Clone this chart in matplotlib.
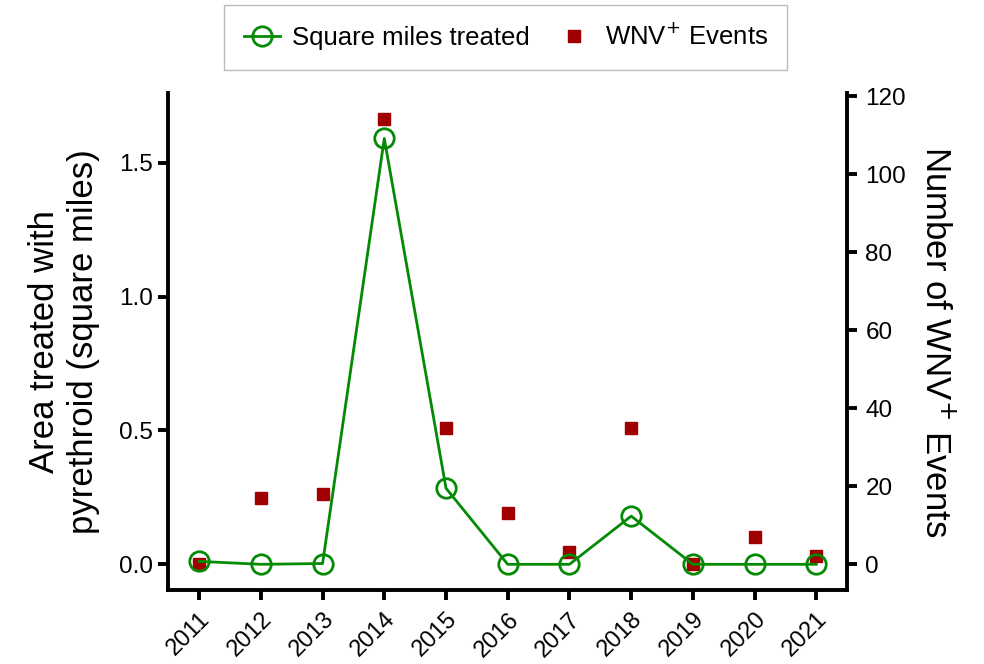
import numpy as np
import matplotlib.pyplot as plt

years = [2011, 2012, 2013, 2014, 2015, 2016, 2017, 2018, 2019, 2020, 2021]
sq_miles = [0.011, 0.0, 0.003, 1.59, 0.284, 0.0, 0.0, 0.18, 0.0, 0.0, 0.0]
wnv_events = [0, 17, 18, 114, 35, 13, 3, 35, 0, 7, 2]

plt.rcParams['font.family'] = ['Liberation Sans', 'DejaVu Sans']

green = '#058a05'
red = '#a00000'

fig = plt.figure(figsize=(9.84, 6.64), dpi=100)
ax = fig.add_axes([0.171, 0.111, 0.69, 0.749])
ax2 = ax.twinx()

l1, = ax.plot(years, sq_miles, color=green, lw=2, marker='o', ms=14,
              mfc='none', mec=green, mew=2, label='Square miles treated', zorder=3)
l2, = ax2.plot(years, wnv_events, ls='none', marker='s', ms=8.5, color=red,
               label='WNV$^{+}$ Events', zorder=2)

ax.set_xlim(2010.5, 2021.5)
ax.set_ylim(-0.097, 1.76)
ax2.set_ylim(-6.7, 120.8)
ax.set_yticks([0.0, 0.5, 1.0, 1.5])
ax.set_yticklabels(['0.0', '0.5', '1.0', '1.5'])
ax2.set_yticks(np.arange(0, 121, 20))
ax.set_xticks(years)
ax.set_xticklabels([str(y) for y in years], rotation=45, ha='right',
                   rotation_mode='anchor', fontsize=17)

ax.spines['top'].set_visible(False)
ax.spines['right'].set_visible(False)
for s in ('top', 'left', 'bottom'):
    ax2.spines[s].set_visible(False)
ax.spines['left'].set_linewidth(2.8)
ax.spines['bottom'].set_linewidth(2.8)
ax2.spines['right'].set_linewidth(2.8)
ax.tick_params(axis='y', width=2.8, length=7, labelsize=17.5, pad=4)
ax.tick_params(axis='x', width=2.8, length=7, labelsize=17, pad=6)
ax2.tick_params(axis='y', width=2.8, length=7, labelsize=17.5, pad=6)

ax.set_ylabel('Area treated with\npyrethroid (square miles)', fontsize=25, labelpad=14)
ax2.set_ylabel('Number of WNV$^{+}$ Events', fontsize=25, rotation=270, labelpad=34)

ax.set_zorder(ax2.get_zorder() + 1)
ax.patch.set_visible(False)

leg = fig.legend([l1, l2], ['Square miles treated', 'WNV$^{+}$ Events'],
                 loc='upper center', bbox_to_anchor=(0.514, 0.997), ncol=2,
                 fontsize=18.5, frameon=True, fancybox=False, edgecolor='#aaaaaa',
                 borderpad=0.75, borderaxespad=0.1, columnspacing=1.0,
                 handlelength=1.4, handletextpad=0.5)
leg.get_frame().set_linewidth(1)

fig.savefig('out.png', dpi=100)
